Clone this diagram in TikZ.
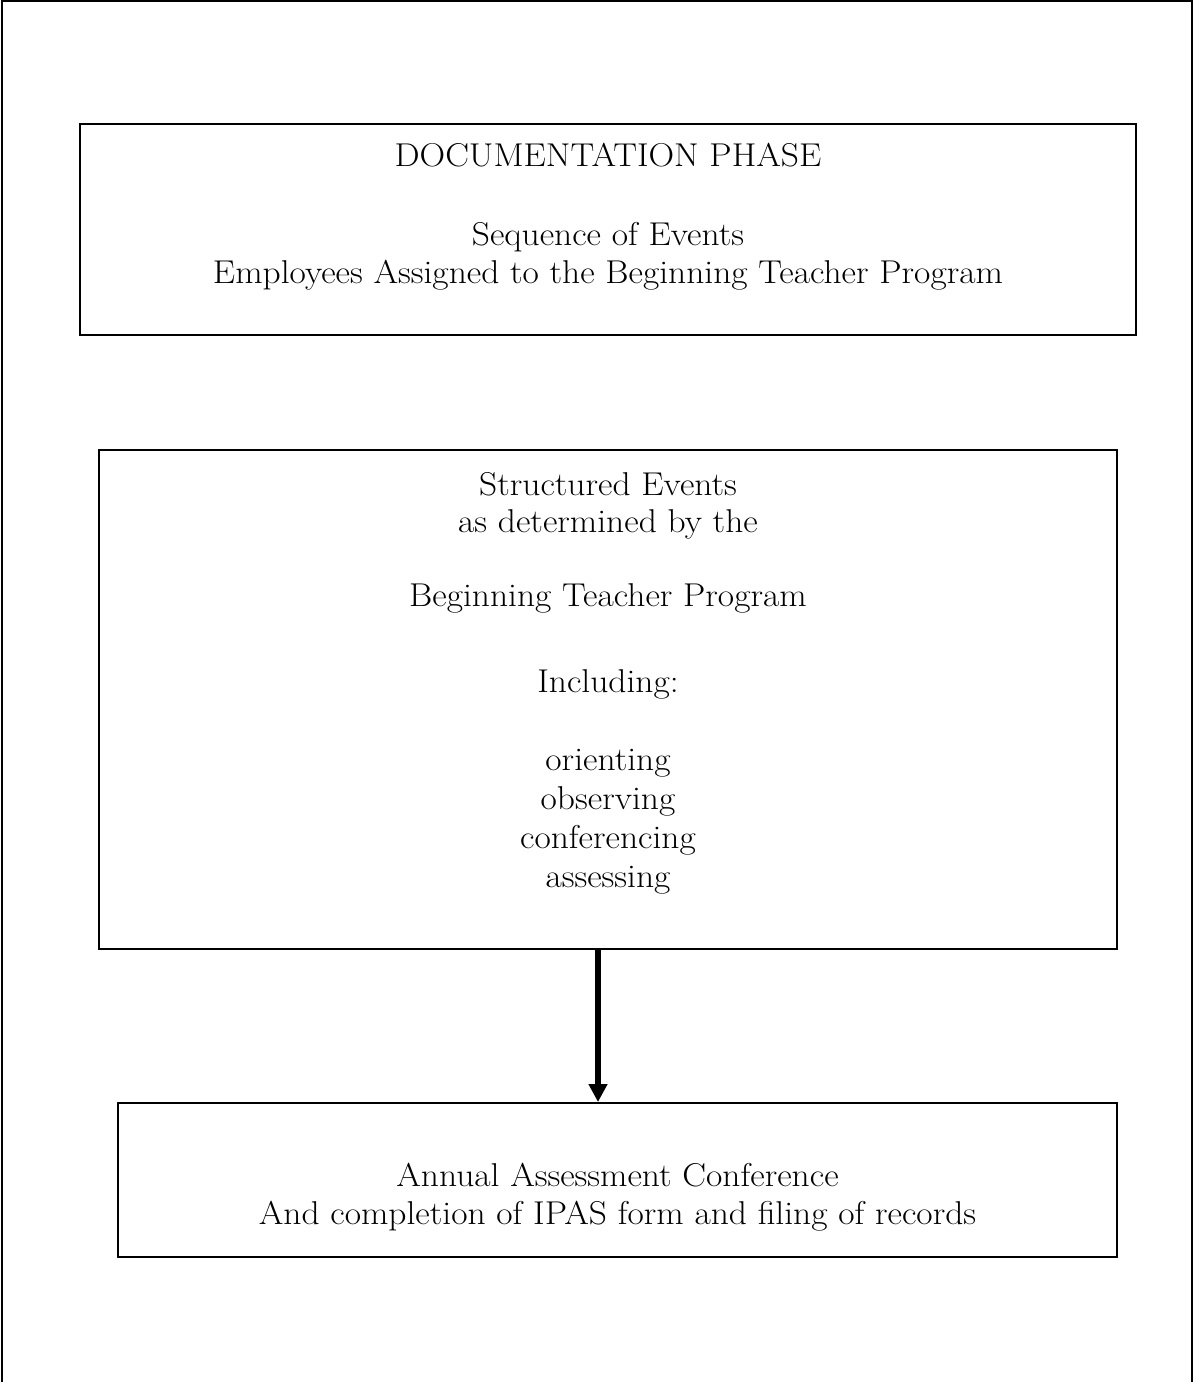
\documentclass[tikz,border=0pt]{standalone}
\usepackage{fontspec}
\setmainfont[FakeStretch=1.075]{Latin Modern Roman}
\usetikzlibrary{arrows.meta,fit}
\begin{document}
\begin{tikzpicture}[x=0.5pt,y=-0.5pt,
  box/.style={draw=black,line width=1pt,inner sep=0pt},
  frame/.style={draw=black,line width=1pt},
  txt/.style={anchor=base,inner sep=0pt,font=\fontsize{16.5}{19}\selectfont},
  flow/.style={draw=black,line width=3.25pt,-{Triangle[width=9pt,length=9pt]}}]
\useasboundingbox (0,0) rectangle (1194,1382);
% outer frame (open at the bottom)
\coordinate (fbl) at (2,1382);
\coordinate (ftl) at (2,1);
\coordinate (ftr) at (1192,1);
\coordinate (fbr) at (1192,1382);
\draw[frame] (fbl) -- (ftl) -- (ftr) -- (fbr);
% boxes
\node[box,fit={(80,124) (1136,335)}] (b1) {};
\node[box,fit={(99,450) (1117,949)}] (b2) {};
\node[box,fit={(118,1103) (1117,1257)}] (b3) {};
% box 1 text
\node[txt] (t11) at (608,166) {DOCUMENTATION PHASE};
\node[txt] (t12) at (608,245) {Sequence of Events};
\node[txt] (t13) at (608,283) {Employees Assigned to the Beginning Teacher Program};
% box 2 text
\node[txt] (t21) at (608,495) {Structured Events};
\node[txt] (t22) at (608,532) {as determined by the};
\node[txt] (t23) at (608,606) {Beginning Teacher Program};
\node[txt] (t24) at (608,692) {Including:};
\node[txt] (t25) at (608,770) {orienting};
\node[txt] (t26) at (608,809) {observing};
\node[txt] (t27) at (608,848) {conferencing};
\node[txt] (t28) at (608,887) {assessing};
% box 3 text
\node[txt] (t31) at (617.5,1186) {Annual Assessment Conference};
\node[txt] (t32) at (617.5,1224) {And completion of IPAS form and filing of records};
% connector
\coordinate (ax) at (598,0);
\draw[flow] (b2.south -| ax) -- (b3.north -| ax);
\end{tikzpicture}
\end{document}
